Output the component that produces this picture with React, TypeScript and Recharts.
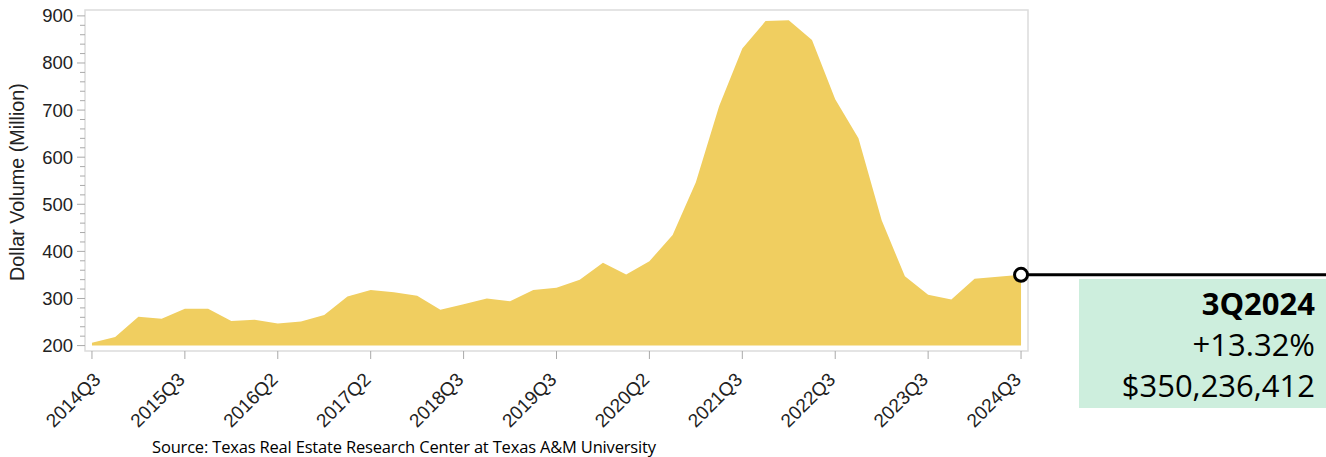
import React from 'react';
import { AreaChart, Area, XAxis, YAxis, ReferenceArea, ReferenceDot } from 'recharts';

// quarterly dollar volume, million $
const quarters = [
  '2014Q3', '2014Q4', '2015Q1', '2015Q2', '2015Q3', '2015Q4', '2016Q1', '2016Q2', '2016Q3', '2016Q4',
  '2017Q1', '2017Q2', '2017Q3', '2017Q4', '2018Q1', '2018Q2', '2018Q3', '2018Q4', '2019Q1', '2019Q2',
  '2019Q3', '2019Q4', '2020Q1', '2020Q2', '2020Q3', '2020Q4', '2021Q1', '2021Q2', '2021Q3', '2021Q4',
  '2022Q1', '2022Q2', '2022Q3', '2022Q4', '2023Q1', '2023Q2', '2023Q3', '2023Q4', '2024Q1', '2024Q2',
  '2024Q3',
];
const volumes = [
  206, 218, 261, 257, 278, 278, 252, 255, 247, 251,
  265, 304, 318, 313, 306, 276, 288, 300, 294, 318,
  323, 340, 376, 351, 379, 435, 547, 708, 831, 889,
  891, 849, 723, 640, 466, 347, 308, 298, 342, 346,
  350.236412,
];
const xTickIdx = [0, 4, 8, 12, 16, 20, 24, 28, 32, 36, 40];
const xTickLabels = ['2014Q3', '2015Q3', '2016Q2', '2017Q2', '2018Q3', '2019Q3', '2020Q2', '2021Q3', '2022Q3', '2023Q3', '2024Q3'];
const yTicks = [200, 220, 240, 260, 280, 300, 320, 340, 360, 380, 400, 420, 440, 460, 480, 500, 520, 540, 560, 580,
  600, 620, 640, 660, 680, 700, 720, 740, 760, 780, 800, 820, 840, 860, 880, 900];

const calloutLines = ['3Q2024', '+13.32%', '$350,236,412'];
const sourceText = 'Source: Texas Real Estate Research Center at Texas A&M University';
const yLabel = 'Dollar Volume (Million)';

const data = quarters.map((q, i) => ({ idx: i, quarter: q, value: volumes[i] }));
const last = data[data.length - 1];

const W = 1326;
const H = 457;
const axisFont = '"Liberation Sans", Arial, sans-serif';
const boxFont = '"Open Sans", sans-serif';

function YTick(props: any) {
  const { x, y, payload } = props;
  const v = payload.value;
  const major = v % 100 === 0;
  const ax = x + 10;
  return (
    <g>
      <line x1={major ? ax - 8 : ax - 5} x2={ax} y1={y} y2={y} stroke="#aaa" strokeWidth={1} />
      {major && (
        <text x={x - 2} y={y} dy="0.35em" textAnchor="end" fontSize={18.5} fill="#222" fontFamily={axisFont}>
          {v}
        </text>
      )}
    </g>
  );
}

function XTick(props: any) {
  const { x, payload } = props;
  const i = xTickIdx.indexOf(payload.value);
  // first label sits a bit right of its tick in the original
  const tx = x - 3.5 + (i === 0 ? 8.5 : 0);
  const ty = 376;
  return (
    <text
      x={tx}
      y={ty}
      dy="0.35em"
      textAnchor="end"
      transform={`rotate(-45 ${tx} ${ty})`}
      fontSize={19}
      fill="#222"
      fontFamily={axisFont}
    >
      {xTickLabels[i]}
    </text>
  );
}

function MarkerShape(props: any) {
  const { cx, cy } = props;
  return (
    <g>
      <line x1={cx} y1={cy} x2={W} y2={cy} stroke="#000" strokeWidth={3} />
      <circle cx={cx} cy={cy} r={6.5} fill="#fff" stroke="#000" strokeWidth={3} />
    </g>
  );
}

export default function App() {
  return (
    <div style={{ position: 'absolute', left: 0, top: 0, width: W, height: H, background: '#fff' }}>
      <AreaChart width={W} height={H} data={data} margin={{ top: 10, right: 298, bottom: 0, left: 0 }}>
        <XAxis
          dataKey="idx"
          type="number"
          domain={[-0.3, 40.3]}
          allowDataOverflow
          ticks={xTickIdx}
          interval={0}
          height={106}
          tickSize={8}
          tickLine={{ stroke: '#aaa' }}
          axisLine={false}
          tick={<XTick />}
        />
        <YAxis
          width={85}
          domain={[188.5, 912.5]}
          allowDataOverflow
          ticks={yTicks}
          interval={0}
          tickSize={8}
          tickMargin={2}
          tickLine={false}
          axisLine={false}
          tick={<YTick />}
        />
        <ReferenceArea x1={-0.3} x2={40.3} y1={188.5} y2={912.5} fill="none" stroke="#dcdcdc" strokeWidth={1.5} />
        <Area
          type="linear"
          dataKey="value"
          stroke="none"
          fill="#F0CE60"
          fillOpacity={1}
          baseValue={200}
          dot={false}
          activeDot={false}
          isAnimationActive={false}
        />
        <ReferenceDot x={last.idx} y={last.value} r={6.5} ifOverflow="visible" shape={<MarkerShape />} />
      </AreaChart>
      <svg width={W} height={H} style={{ position: 'absolute', left: 0, top: 0, pointerEvents: 'none' }}>
        <text
          x={24}
          y={182}
          textAnchor="middle"
          transform="rotate(-90 24 182)"
          fontSize={19.8}
          fill="#222"
          fontFamily={axisFont}
        >
          {yLabel}
        </text>
        <rect x={1079} y={279} width={W - 1079} height={129} fill="#CDEEDD" />
        {calloutLines.map((t, k) => (
          <text
            key={t}
            x={1315}
            y={315 + k * 41}
            textAnchor="end"
            fontSize={31}
            fontWeight={k === 0 ? 700 : 400}
            fill="#000"
            fontFamily={boxFont}
          >
            {t}
          </text>
        ))}
        <text x={152} y={452.5} fontSize={16.5} textLength={504} lengthAdjust="spacing" fill="#000" fontFamily={boxFont}>
          {sourceText}
        </text>
      </svg>
    </div>
  );
}
